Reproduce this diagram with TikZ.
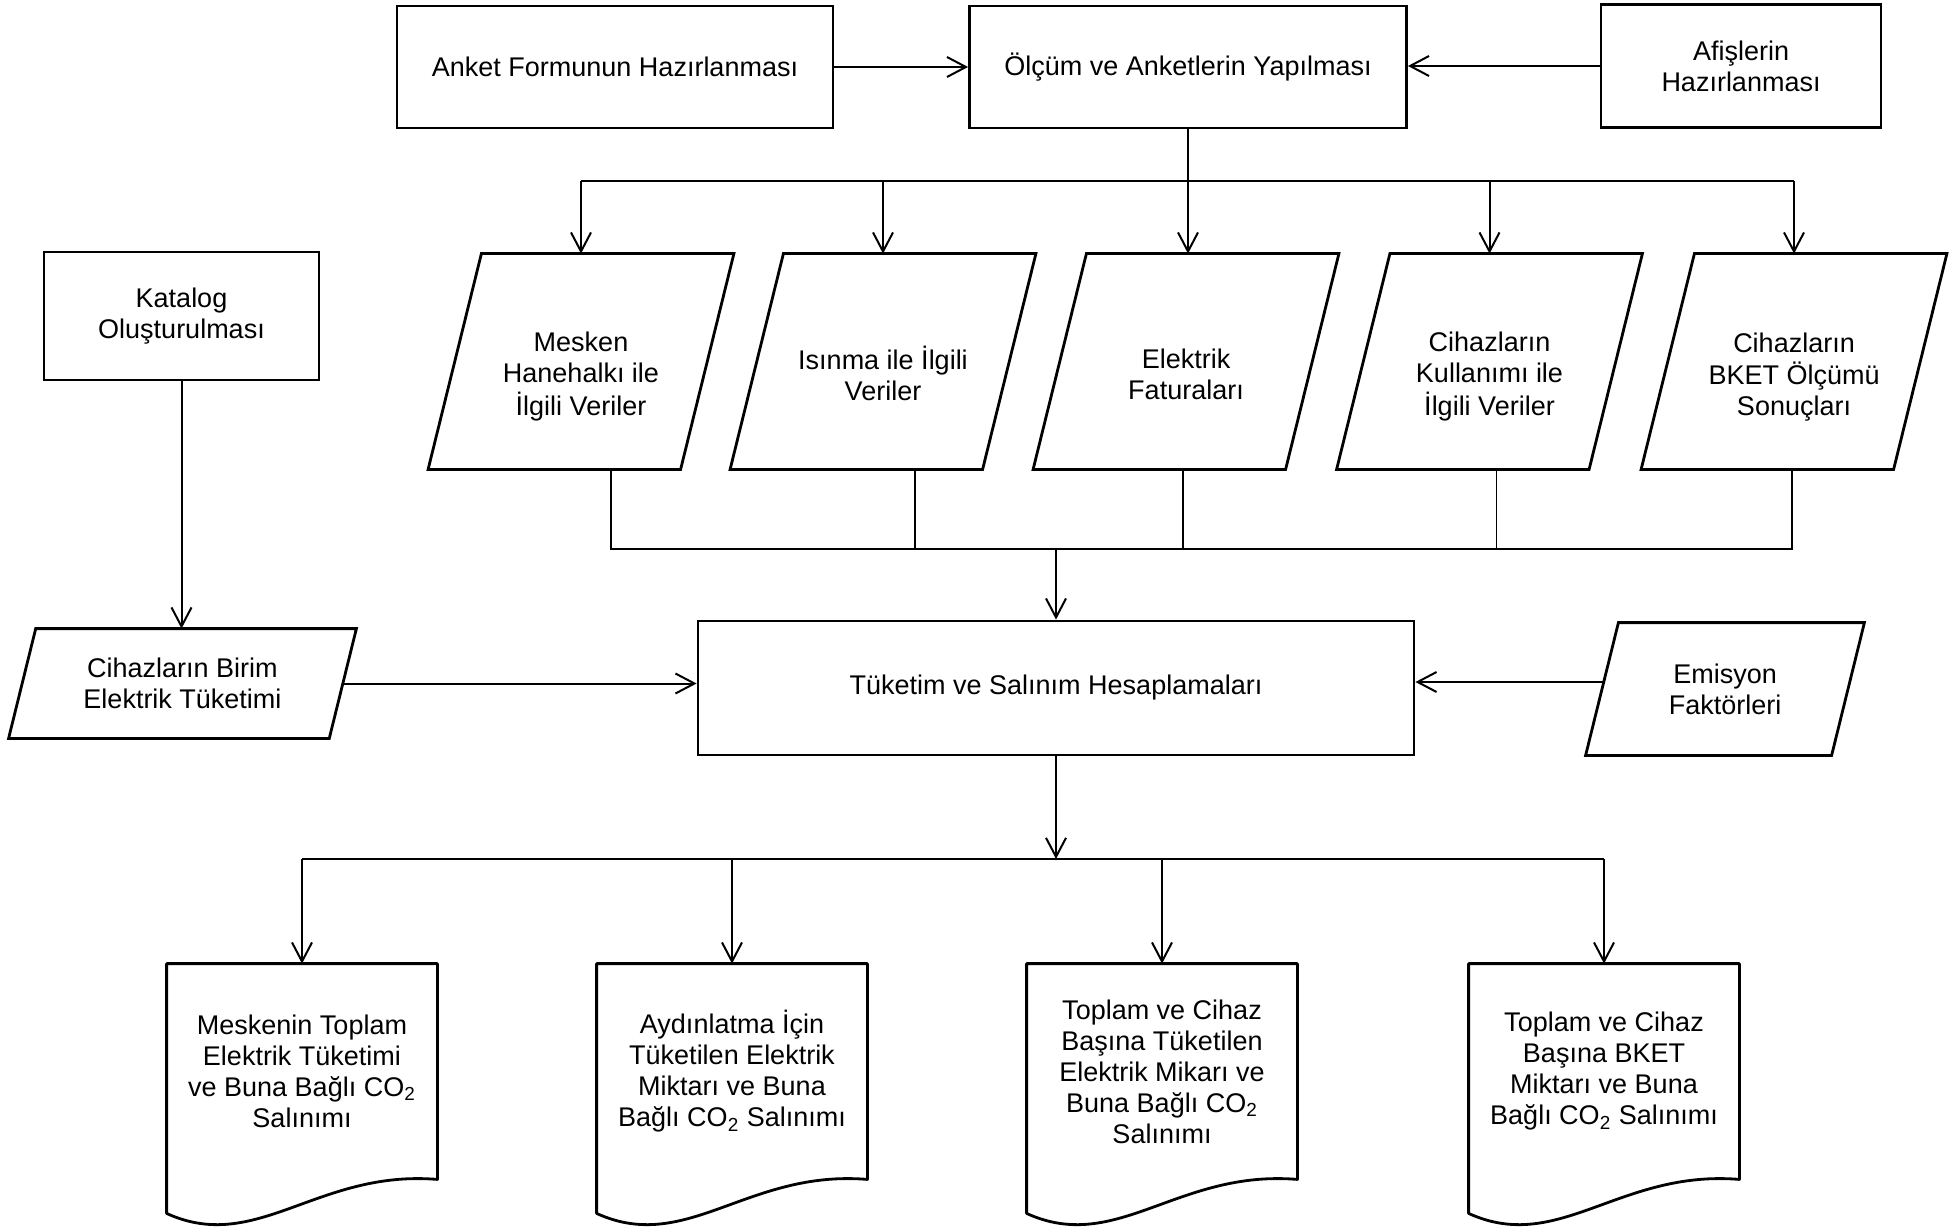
\documentclass[tikz,border=0pt]{standalone}
\usepackage{fontspec}
\setmainfont{Liberation Sans}
\usetikzlibrary{arrows.meta,calc}
\newcommand{\lowtxt}[1]{\raisebox{-8pt}[\height][\depth]{\begin{tabular}{@{}c@{}}#1\end{tabular}}}
\begin{document}
\begin{tikzpicture}[x=0.5pt,y=-0.5pt,
  font=\fontsize{13.5}{15.5}\selectfont,
  box/.style={draw,line width=1.4pt,align=center},
  data/.style={align=center},
  doc/.style={minimum width=135pt,minimum height=107.5pt,align=center},
  arrow/.style={-{Straight Barb[length=9.5pt,width=10pt]},line width=1pt},
  collect/.style={line width=0.8pt}]
\useasboundingbox (0,0) rectangle (1958,1230);
\node[box,minimum width=218pt,minimum height=61pt] (anket) at (615,67) {Anket Formunun Hazırlanması};
\node[box,minimum width=218.5pt,minimum height=61pt] (olcum) at (1188,67) {Ölçüm ve Anketlerin Yapılması};
\node[box,minimum width=140pt,minimum height=61.5pt] (afis) at (1741,66) {Afişlerin\\Hazırlanması};
\node[box,minimum width=137.5pt,minimum height=64pt] (katalog) at (181.5,316) {Katalog\\Oluşturulması};
\node[box,minimum width=358pt,minimum height=67pt] (hesap) at (1056,688) {Tüketim ve Salınım Hesaplamaları};
\node[data,minimum width=152.5pt,minimum height=107.5pt] (mesken) at (581,361.5) {\lowtxt{Mesken\\Hanehalkı ile\\İlgili Veriler}};
\node[data,minimum width=152.5pt,minimum height=107.5pt] (isinma) at (883,361.5) {\lowtxt{Isınma ile İlgili\\Veriler}};
\node[data,minimum width=152.5pt,minimum height=107.5pt] (fatura) at (1186,361.5) {\lowtxt{Elektrik\\Faturaları}};
\node[data,minimum width=152.5pt,minimum height=107.5pt] (kullanim) at (1489.5,361.5) {\lowtxt{Cihazların\\Kullanımı ile\\İlgili Veriler}};
\node[data,minimum width=152.5pt,minimum height=107.5pt] (bket) at (1794,361.5) {\lowtxt{Cihazların\\BKET Ölçümü\\Sonuçları}};
\node[data,minimum width=173.5pt,minimum height=54.5pt] (birim) at (182.5,683.5) {Cihazların Birim\\Elektrik Tüketimi};
\node[data,minimum width=139pt,minimum height=66pt] (emisyon) at (1725,689) {Emisyon\\Faktörleri};
\foreach \s in {mesken,isinma,fatura,kullanim,bket,birim,emisyon}
  \draw[line width=1.4pt] let \p1=(\s.north west), \p2=(\s.south east), \n1={0.247*(\y1-\y2)} in
    (\x1+\n1,\y1) -- (\x2,\y1) -- (\x2-\n1,\y2) -- (\x1,\y2) -- cycle;
\node[doc] (dtoplam) at (302,1071.5) {Meskenin Toplam\\Elektrik Tüketimi\\ve Buna Bağlı CO\textsubscript{2}\\Salınımı};
\node[doc] (daydin) at (732,1071.5) {Aydınlatma İçin\\Tüketilen Elektrik\\Miktarı ve Buna\\Bağlı CO\textsubscript{2} Salınımı};
\node[doc] (dcihaz) at (1162,1071.5) {Toplam ve Cihaz\\Başına Tüketilen\\Elektrik Mikarı ve\\Buna Bağlı CO\textsubscript{2}\\Salınımı};
\node[doc] (dbket) at (1604,1071.5) {Toplam ve Cihaz\\Başına BKET\\Miktarı ve Buna\\Bağlı CO\textsubscript{2} Salınımı};
\foreach \d in {dtoplam,daydin,dcihaz,dbket}
  \draw[line width=1.4pt,line join=round] ([shift={(0,34)}]\d.south west) -- (\d.north west) -- (\d.north east) -- (\d.south east)
    .. controls ([shift={(-120,-10)}]\d.south east) and ([shift={(90,75)}]\d.south west) .. ([shift={(0,34)}]\d.south west) -- cycle;
\draw[arrow] (anket.east) -- (anket.east -| olcum.west);
\draw[arrow] (afis.west) -- (afis.west -| olcum.east);
\coordinate (split) at (1188,181);
\draw[arrow] (olcum.south) -- (olcum.south |- fatura.north);
\draw[line width=1pt] (mesken.north |- split) -- (bket.north |- split);
\foreach \n in {mesken,isinma,kullanim,bket}
  \draw[arrow] (\n.north |- split) -- (\n.north);
\coordinate (merge) at (1056,549);
\foreach \n/\dx in {mesken/30,isinma/32,fatura/-3,kullanim/7,bket/-2}
  \draw[collect] ([xshift=\dx*0.5pt]\n.south) |- (merge);
\draw[arrow] (merge) -- (hesap.north);
\draw[arrow] (katalog.south) -- (katalog.south |- birim.north);
\coordinate (birimout) at ([xshift=-6.75pt]birim.east);
\coordinate (emisyonout) at ([shift={(18,-7)}]emisyon.west);
\draw[arrow] (birimout) -- (birimout -| hesap.west);
\draw[arrow] (emisyonout) -- (emisyonout -| hesap.east);
\coordinate (fork) at (1056,859);
\draw[arrow] (hesap.south) -- (fork);
\draw[line width=1pt] (dtoplam.north |- fork) -- (dbket.north |- fork);
\foreach \d in {dtoplam,daydin,dcihaz,dbket}
  \draw[arrow] (\d.north |- fork) -- (\d.north);
\end{tikzpicture}
\end{document}
